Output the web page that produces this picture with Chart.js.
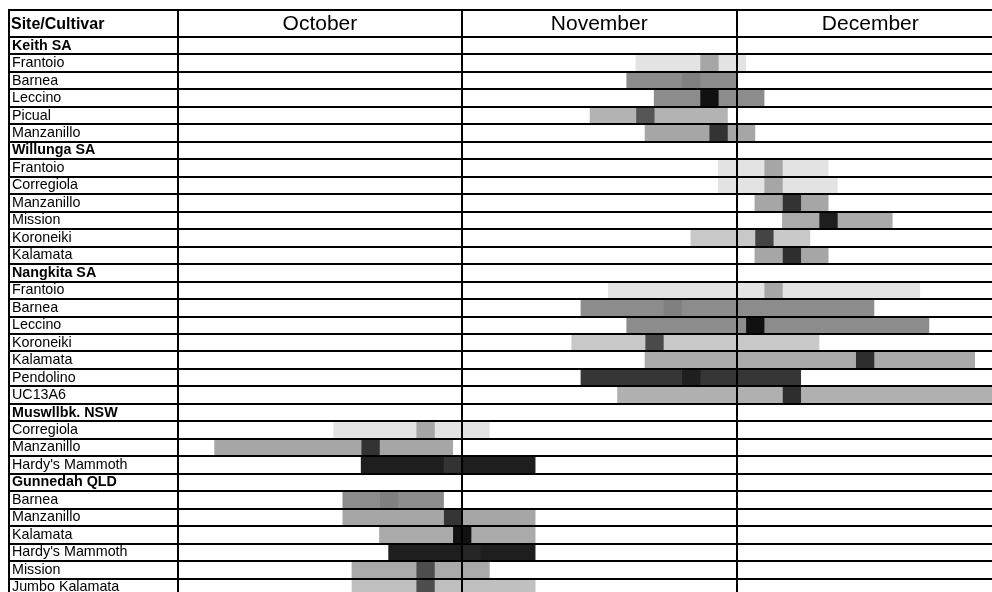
<!DOCTYPE html>
<html>
<head>
<meta charset="utf-8">
<script src="https://cdn.jsdelivr.net/npm/chart.js@4.4.1/dist/chart.umd.min.js"></script>
<style>
  html, body { margin: 0; padding: 0; background: #fff; overflow: hidden; }
  #wrap { position: relative; width: 1004px; height: 600px; }
</style>
</head>
<body>
<div id="wrap"><canvas id="flowering"></canvas></div>
<script>
// FLOWERING TIMES - days counted from 1 October //

var rows = ['Keith SA', 'Frantoio', 'Barnea', 'Leccino', 'Picual', 'Manzanillo',
    'Willunga SA', 'Frantoio', 'Corregiola', 'Manzanillo', 'Mission', 'Koroneiki', 'Kalamata',
    'Nangkita SA', 'Frantoio', 'Barnea', 'Leccino', 'Koroneiki', 'Kalamata', 'Pendolino', 'UC13A6',
    'Muswllbk. NSW', 'Corregiola', 'Manzanillo', "Hardy's Mammoth",
    'Gunnedah QLD', 'Barnea', 'Manzanillo', 'Kalamata', "Hardy's Mammoth", 'Mission', 'Jumbo Kalamata'];
var siteRows = ['Keith SA', 'Willunga SA', 'Nangkita SA', 'Muswllbk. NSW', 'Gunnedah QLD'];

var months = ['October', 'November', 'December'];
var monthStarts = [0, 31, 61];
var monthEnds = [31, 61, 90.2]; // december is cut off at the right edge

// flowering: first day, peak from, peak to, last day
var firstDay = [null, 50, 49, 52, 45, 51, null, 59, 59, 63, 66, 56, 63, null, 47, 44, 49, 43, 51, 44, 48, null, 17, 4, 20, null, 18, 18, 22, 23, 19, 19];
var peakFrom = [null, 57, 55, 57, 50, 58, null, 64, 64, 66, 70, 63, 66, null, 64, 53, 62, 51, 74, 55, 66, null, 26, 20, 29, null, 22, 29, 30, 31, 26, 26];
var peakTo   = [null, 59, 57, 59, 52, 60, null, 66, 66, 68, 72, 65, 68, null, 66, 55, 64, 53, 76, 57, 68, null, 28, 22, 31, null, 24, 31, 32, 33, 28, 28];
var lastDay  = [null, 62, 61, 64, 60, 63, null, 71, 72, 71, 78, 69, 71, null, 81, 76, 82, 70, 87, 68, 92, null, 34, 30, 39, null, 29, 39, 39, 39, 34, 39];

// greys
var shade = ['', '#e3e3e3', '#8c8c8c', '#8c8c8c', '#b3b3b3', '#a6a6a6', '', '#e3e3e3', '#e3e3e3', '#a6a6a6', '#aaaaaa', '#c8c8c8', '#a6a6a6',
    '', '#e3e3e3', '#8c8c8c', '#8c8c8c', '#c8c8c8', '#aaaaaa', '#363636', '#b0b0b0', '', '#e3e3e3', '#a6a6a6', '#1e1e1e',
    '', '#8c8c8c', '#a6a6a6', '#aaaaaa', '#1e1e1e', '#aaaaaa', '#c0c0c0'];
var peakShade = ['', '#a6a6a6', '#808080', '#111111', '#555555', '#333333', '', '#a6a6a6', '#a6a6a6', '#333333', '#1e1e1e', '#444444', '#2e2e2e',
    '', '#a6a6a6', '#808080', '#111111', '#4a4a4a', '#2e2e2e', '#1f1f1f', '#2e2e2e', '', '#a6a6a6', '#333333', '#333333',
    '', '#808080', '#353535', '#111111', '#262626', '#4d4d4d', '#4d4d4d'];

var FONT = "'Liberation Sans', Arial, sans-serif";
Chart.defaults.font.family = FONT;
Chart.defaults.color = '#000';

var centers = months.map(function (m, i) { return (monthStarts[i] + monthEnds[i]) / 2; });

function span(a, b) {
    return rows.map(function (r, i) { return a[i] == null ? null : [a[i], b[i]]; });
}

// lines and heading the axes don't draw
var tableFrame = {
    id: 'tableFrame',
    afterDraw: function (chart) {
        var ctx = chart.ctx, area = chart.chartArea, xs = chart.scales.x, ys = chart.scales.y;
        var left = area.left - ys.options.grid.tickLength;
        ctx.save();
        ctx.strokeStyle = '#000';
        ctx.lineWidth = 2;
        ctx.beginPath();
        ctx.moveTo(left, xs.top);
        ctx.lineTo(chart.width, xs.top);
        ctx.moveTo(left, xs.top - 1);
        ctx.lineTo(left, area.bottom);
        ctx.stroke();
        ctx.fillStyle = '#000';
        ctx.font = 'bold 16px ' + FONT;
        ctx.textBaseline = 'middle';
        ctx.fillText('Site/Cultivar', ys.left - 1, (xs.top + area.top) / 2 + 1);
        ctx.restore();
    }
};

var ctx = document.getElementById('flowering').getContext('2d');
var chart = new Chart(ctx, {
    type: 'bar',
    data: {
        labels: rows,
        datasets: [
            { label: 'start', data: span(firstDay, peakFrom), backgroundColor: shade },
            { label: 'peak', data: span(peakFrom, peakTo), backgroundColor: peakShade },
            { label: 'end', data: span(peakTo, lastDay), backgroundColor: shade }
        ]
    },
    options: {
        indexAxis: 'y',
        responsive: true,
        maintainAspectRatio: false,
        animation: false,
        layout: { padding: { left: 12, top: 10, right: 0, bottom: 4 } },
        datasets: { bar: { barPercentage: 1, categoryPercentage: 1, borderWidth: 0 } },
        plugins: { legend: { display: false }, tooltip: { enabled: false } },
        scales: {
            x: {
                type: 'linear',
                position: 'top',
                min: 0,
                max: monthEnds[2],
                afterFit: function (scale) { scale.height = 27; },
                afterBuildTicks: function (scale) {
                    var t = [];
                    months.forEach(function (m, i) {
                        t.push({ value: monthStarts[i] });
                        t.push({ value: centers[i] });
                    });
                    scale.ticks = t;
                },
                grid: {
                    z: 1,
                    lineWidth: 2,
                    tickLength: 27,
                    color: function (c) {
                        return c.tick && monthStarts.indexOf(c.tick.value) >= 0 ? '#000' : 'rgba(0,0,0,0)';
                    }
                },
                border: { z: 1, color: '#000', width: 2 },
                ticks: {
                    z: 1,
                    autoSkip: false,
                    maxRotation: 0,
                    padding: -27,
                    font: { size: 21 },
                    callback: function (v) {
                        var i = centers.indexOf(v);
                        return i >= 0 ? months[i] : '';
                    }
                }
            },
            y: {
                stacked: true,
                afterFit: function (scale) {
                    scale.width = 166;
                    scale.paddingTop = 0;
                    scale.paddingBottom = 0;
                },
                grid: { z: 1, color: '#000', lineWidth: 2, tickLength: 169 },
                border: { z: 1, color: '#000', width: 2 },
                ticks: {
                    z: 1,
                    autoSkip: false,
                    crossAlign: 'far',
                    font: function (c) {
                        return { size: 14.3, weight: siteRows.indexOf(rows[c.index]) >= 0 ? 'bold' : 'normal' };
                    }
                }
            }
        }
    },
    plugins: [tableFrame]
});
</script>
</body>
</html>
